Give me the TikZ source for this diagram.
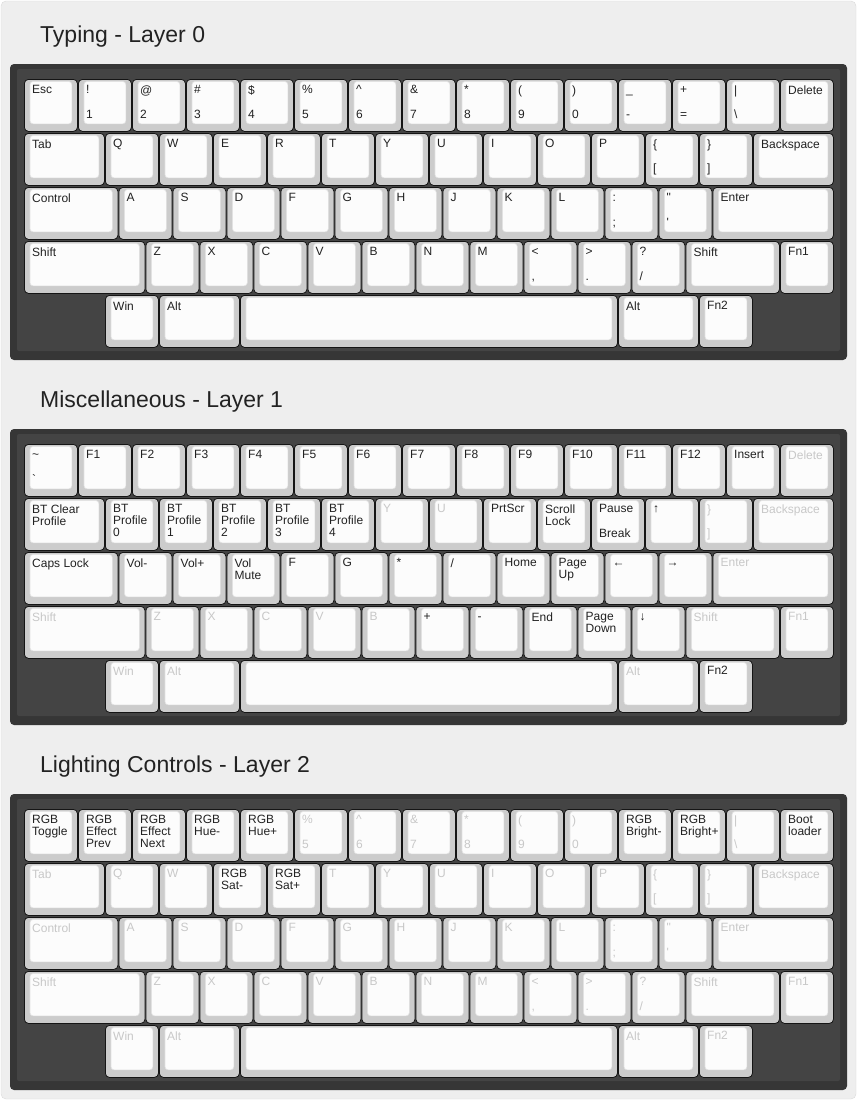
\documentclass[tikz,border=0pt]{standalone}
\usepackage{fontspec}
\setmainfont{Liberation Sans}
\usetikzlibrary{positioning}

\definecolor{panelbg}{HTML}{EEEEEE}
\definecolor{panelline}{HTML}{DADADA}
\definecolor{caseouter}{HTML}{363636}
\definecolor{caseinner}{HTML}{444444}
\definecolor{keyline}{HTML}{151515}
\definecolor{capside}{HTML}{CCCCCC}
\definecolor{capface}{HTML}{FCFCFC}
\definecolor{faceline}{HTML}{E2E2E2}
\definecolor{legendon}{HTML}{222222}
\definecolor{legendoff}{HTML}{C8C8C8}
\definecolor{titletext}{HTML}{222222}

\newcount\keyno
% start a row: layer, row, first column (in key units)
\newcommand{\keyrow}[3]{\xdef\klayer{#1}\xdef\krow{#2}\pgfmathsetmacro\kcol{#3}\xdef\kcol{\kcol}}
% one key: width (units), top legend, bottom legend, on/off
\newcommand{\keycap}[4]{%
  \global\advance\keyno by 1
  \edef\kname{key\the\keyno}%
  \pgfmathsetmacro\kx{24+\kcol*54}%
  \pgfmathsetmacro\ky{79+\klayer*365+\krow*54}%
  \pgfmathsetmacro\kw{#1*54-1}%
  \node[keyside, minimum width=\kw pt, anchor=north west] (\kname) at (\kx,\ky) {};
  \draw[keyface] ([xshift=6pt,yshift=-2.5pt]\kname.north west) rectangle ([xshift=-6pt,yshift=8pt]\kname.south east);
  \def\ktop{#2}\def\kbot{#3}%
  \ifx\ktop\empty\else
    \node[keylabel, text=legend#4, anchor=north west] (\kname-t) at ([xshift=8pt,yshift=-6.4pt]\kname.north west) {\vphantom{A}#2};
  \fi
  \ifx\kbot\empty\else
    \node[keylabel, text=legend#4, anchor=base west] (\kname-b) at ([xshift=8pt,yshift=-39pt]\kname.north west) {#3};
  \fi
  \pgfmathsetmacro\kcol{\kcol+#1}\xdef\kcol{\kcol}%
}

\begin{document}
\begin{tikzpicture}[x=1pt, y=-1pt]
    \tikzstyle{panel} = [rounded corners=5pt, draw=panelline, fill=panelbg]
    \tikzstyle{caseframe} = [rounded corners=4pt, fill=caseouter]
    \tikzstyle{caseplate} = [rounded corners=2pt, fill=caseinner]
    \tikzstyle{keyside} = [rectangle, rounded corners=4pt, draw=keyline, line width=0.8pt, fill=capside, inner sep=0pt, minimum height=52pt]
    \tikzstyle{keyface} = [rounded corners=3pt, draw=faceline, line width=0.6pt, fill=capface]
    \tikzstyle{keylabel} = [inner sep=0pt, align=left, font=\fontsize{12}{12}\selectfont]
    \tikzstyle{layertitle} = [inner sep=0pt, font=\fontsize{23}{28}\selectfont, text=titletext]

    \useasboundingbox (0,0) rectangle (857,1100);
    \draw[panel] (1,1) rectangle (856,1099);

    \foreach \l in {0,1,2} {
        \fill[caseframe] (10,64+365*\l) rectangle (847,360+365*\l);
        \fill[caseplate] (17,69+365*\l) rectangle (840,351+365*\l);
    }

    \node[layertitle, anchor=base west] (title0) at (40,42) {Typing - Layer 0};
    \node[layertitle, anchor=base west] (title1) at (40,407) {Miscellaneous - Layer 1};
    \node[layertitle, anchor=base west] (title2) at (40,772) {Lighting Controls - Layer 2};

    % layer 0
    \keyrow{0}{0}{0}
    \keycap{1}{Esc}{}{on} \keycap{1}{!}{1}{on} \keycap{1}{@}{2}{on} \keycap{1}{\#}{3}{on} \keycap{1}{\$}{4}{on}
    \keycap{1}{\%}{5}{on} \keycap{1}{\textasciicircum}{6}{on} \keycap{1}{\&}{7}{on} \keycap{1}{*}{8}{on} \keycap{1}{(}{9}{on}
    \keycap{1}{)}{0}{on} \keycap{1}{\_}{-}{on} \keycap{1}{+}{=}{on} \keycap{1}{|}{\textbackslash}{on} \keycap{1}{Delete}{}{on}
    \keyrow{0}{1}{0}
    \keycap{1.5}{Tab}{}{on} \keycap{1}{Q}{}{on} \keycap{1}{W}{}{on} \keycap{1}{E}{}{on} \keycap{1}{R}{}{on} \keycap{1}{T}{}{on}
    \keycap{1}{Y}{}{on} \keycap{1}{U}{}{on} \keycap{1}{I}{}{on} \keycap{1}{O}{}{on} \keycap{1}{P}{}{on}
    \keycap{1}{\{}{[}{on} \keycap{1}{\}}{]}{on} \keycap{1.5}{Backspace}{}{on}
    \keyrow{0}{2}{0}
    \keycap{1.75}{Control}{}{on} \keycap{1}{A}{}{on} \keycap{1}{S}{}{on} \keycap{1}{D}{}{on} \keycap{1}{F}{}{on} \keycap{1}{G}{}{on}
    \keycap{1}{H}{}{on} \keycap{1}{J}{}{on} \keycap{1}{K}{}{on} \keycap{1}{L}{}{on}
    \keycap{1}{:}{;}{on} \keycap{1}{\textquotedbl}{\textquotesingle}{on} \keycap{2.25}{Enter}{}{on}
    \keyrow{0}{3}{0}
    \keycap{2.25}{Shift}{}{on} \keycap{1}{Z}{}{on} \keycap{1}{X}{}{on} \keycap{1}{C}{}{on} \keycap{1}{V}{}{on} \keycap{1}{B}{}{on}
    \keycap{1}{N}{}{on} \keycap{1}{M}{}{on} \keycap{1}{<}{,}{on} \keycap{1}{>}{.}{on} \keycap{1}{?}{/}{on}
    \keycap{1.75}{Shift}{}{on} \keycap{1}{Fn1}{}{on}
    \keyrow{0}{4}{1.5}
    \keycap{1}{Win}{}{on} \keycap{1.5}{Alt}{}{on} \keycap{7}{}{}{on} \keycap{1.5}{Alt}{}{on} \keycap{1}{Fn2}{}{on}

    % layer 1
    \keyrow{1}{0}{0}
    \keycap{1}{\textasciitilde}{\textasciigrave}{on} \keycap{1}{F1}{}{on} \keycap{1}{F2}{}{on} \keycap{1}{F3}{}{on} \keycap{1}{F4}{}{on}
    \keycap{1}{F5}{}{on} \keycap{1}{F6}{}{on} \keycap{1}{F7}{}{on} \keycap{1}{F8}{}{on} \keycap{1}{F9}{}{on}
    \keycap{1}{F10}{}{on} \keycap{1}{F11}{}{on} \keycap{1}{F12}{}{on} \keycap{1}{Insert}{}{on} \keycap{1}{Delete}{}{off}
    \keyrow{1}{1}{0}
    \keycap{1.5}{BT Clear\\Profile}{}{on} \keycap{1}{BT\\Profile\\0}{}{on} \keycap{1}{BT\\Profile\\1}{}{on}
    \keycap{1}{BT\\Profile\\2}{}{on} \keycap{1}{BT\\Profile\\3}{}{on} \keycap{1}{BT\\Profile\\4}{}{on}
    \keycap{1}{Y}{}{off} \keycap{1}{U}{}{off} \keycap{1}{PrtScr}{}{on} \keycap{1}{Scroll\\Lock}{}{on} \keycap{1}{Pause}{Break}{on}
    \keycap{1}{↑}{}{on} \keycap{1}{\}}{]}{off} \keycap{1.5}{Backspace}{}{off}
    \keyrow{1}{2}{0}
    \keycap{1.75}{Caps Lock}{}{on} \keycap{1}{Vol-}{}{on} \keycap{1}{Vol+}{}{on} \keycap{1}{Vol\\Mute}{}{on} \keycap{1}{F}{}{on}
    \keycap{1}{G}{}{on} \keycap{1}{*}{}{on} \keycap{1}{/}{}{on} \keycap{1}{Home}{}{on} \keycap{1}{Page\\Up}{}{on}
    \keycap{1}{←}{}{on} \keycap{1}{→}{}{on} \keycap{2.25}{Enter}{}{off}
    \keyrow{1}{3}{0}
    \keycap{2.25}{Shift}{}{off} \keycap{1}{Z}{}{off} \keycap{1}{X}{}{off} \keycap{1}{C}{}{off} \keycap{1}{V}{}{off} \keycap{1}{B}{}{off}
    \keycap{1}{+}{}{on} \keycap{1}{-}{}{on} \keycap{1}{End}{}{on} \keycap{1}{Page\\Down}{}{on} \keycap{1}{↓}{}{on}
    \keycap{1.75}{Shift}{}{off} \keycap{1}{Fn1}{}{off}
    \keyrow{1}{4}{1.5}
    \keycap{1}{Win}{}{off} \keycap{1.5}{Alt}{}{off} \keycap{7}{}{}{off} \keycap{1.5}{Alt}{}{off} \keycap{1}{Fn2}{}{on}

    % layer 2
    \keyrow{2}{0}{0}
    \keycap{1}{RGB\\Toggle}{}{on} \keycap{1}{RGB\\Effect\\Prev}{}{on} \keycap{1}{RGB\\Effect\\Next}{}{on}
    \keycap{1}{RGB\\Hue-}{}{on} \keycap{1}{RGB\\Hue+}{}{on}
    \keycap{1}{\%}{5}{off} \keycap{1}{\textasciicircum}{6}{off} \keycap{1}{\&}{7}{off} \keycap{1}{*}{8}{off} \keycap{1}{(}{9}{off}
    \keycap{1}{)}{0}{off} \keycap{1}{RGB\\Bright-}{}{on} \keycap{1}{RGB\\Bright+}{}{on} \keycap{1}{|}{\textbackslash}{off}
    \keycap{1}{Boot\\loader}{}{on}
    \keyrow{2}{1}{0}
    \keycap{1.5}{Tab}{}{off} \keycap{1}{Q}{}{off} \keycap{1}{W}{}{off} \keycap{1}{RGB\\Sat-}{}{on} \keycap{1}{RGB\\Sat+}{}{on}
    \keycap{1}{T}{}{off} \keycap{1}{Y}{}{off} \keycap{1}{U}{}{off} \keycap{1}{I}{}{off} \keycap{1}{O}{}{off} \keycap{1}{P}{}{off}
    \keycap{1}{\{}{[}{off} \keycap{1}{\}}{]}{off} \keycap{1.5}{Backspace}{}{off}
    \keyrow{2}{2}{0}
    \keycap{1.75}{Control}{}{off} \keycap{1}{A}{}{off} \keycap{1}{S}{}{off} \keycap{1}{D}{}{off} \keycap{1}{F}{}{off} \keycap{1}{G}{}{off}
    \keycap{1}{H}{}{off} \keycap{1}{J}{}{off} \keycap{1}{K}{}{off} \keycap{1}{L}{}{off}
    \keycap{1}{:}{;}{off} \keycap{1}{\textquotedbl}{\textquotesingle}{off} \keycap{2.25}{Enter}{}{off}
    \keyrow{2}{3}{0}
    \keycap{2.25}{Shift}{}{off} \keycap{1}{Z}{}{off} \keycap{1}{X}{}{off} \keycap{1}{C}{}{off} \keycap{1}{V}{}{off} \keycap{1}{B}{}{off}
    \keycap{1}{N}{}{off} \keycap{1}{M}{}{off} \keycap{1}{<}{,}{off} \keycap{1}{>}{.}{off} \keycap{1}{?}{/}{off}
    \keycap{1.75}{Shift}{}{off} \keycap{1}{Fn1}{}{off}
    \keyrow{2}{4}{1.5}
    \keycap{1}{Win}{}{off} \keycap{1.5}{Alt}{}{off} \keycap{7}{}{}{off} \keycap{1.5}{Alt}{}{off} \keycap{1}{Fn2}{}{off}
\end{tikzpicture}
\end{document}
